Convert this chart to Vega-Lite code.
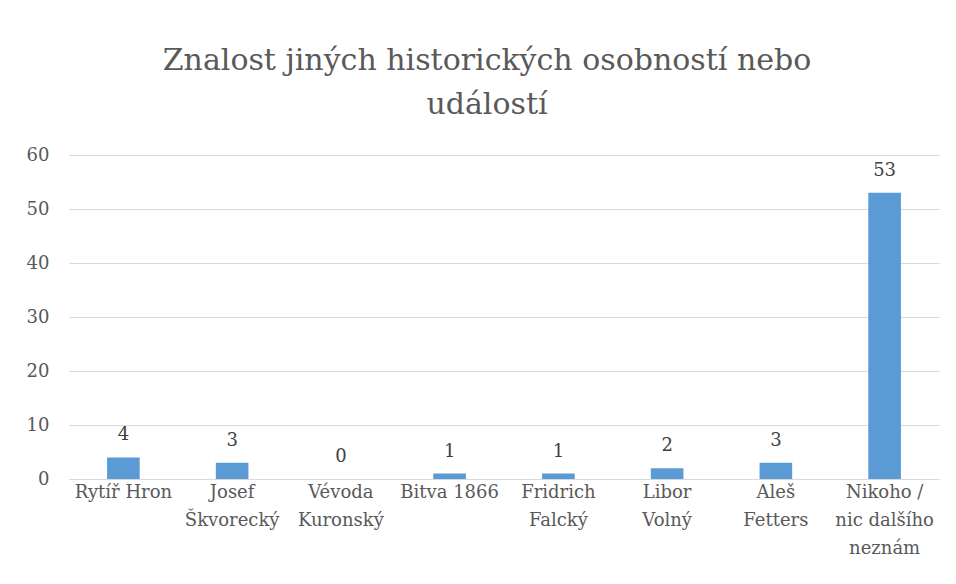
{
  "$schema": "https://vega.github.io/schema/vega-lite/v6.json",
  "width": 870,
  "height": 324,
  "autosize": "none",
  "padding": {"left": 69, "top": 155, "right": 17, "bottom": 105},
  "background": "white",
  "title": {
    "text": ["Znalost jiných historických osobností nebo", "událostí"],
    "font": "DejaVu Serif",
    "fontSize": 30,
    "fontWeight": "normal",
    "color": "#595959",
    "lineHeight": 44,
    "anchor": "middle",
    "dx": -17,
    "offset": 26
  },
  "data": {
    "values": [
      {"kategorie": "Rytíř Hron", "pocet": 4},
      {"kategorie": "Josef|Škvorecký", "pocet": 3},
      {"kategorie": "Vévoda|Kuronský", "pocet": 0},
      {"kategorie": "Bitva 1866", "pocet": 1},
      {"kategorie": "Fridrich|Falcký", "pocet": 1},
      {"kategorie": "Libor|Volný", "pocet": 2},
      {"kategorie": "Aleš|Fetters", "pocet": 3},
      {"kategorie": "Nikoho /|nic dalšího|neznám", "pocet": 53}
    ]
  },
  "encoding": {
    "x": {
      "field": "kategorie",
      "type": "nominal",
      "sort": null,
      "scale": {"paddingInner": 0.7, "paddingOuter": 0.35},
      "axis": {
        "title": null,
        "labelAngle": 0,
        "labelExpr": "split(datum.value, '|')",
        "labelFont": "DejaVu Serif",
        "labelFontSize": 18,
        "labelColor": "#595959",
        "labelLineHeight": 28,
        "labelPadding": 4,
        "labelBaseline": "top",
        "ticks": false,
        "domainColor": "#d9d9d9",
        "labelLimit": 0
      }
    },
    "y": {
      "field": "pocet",
      "type": "quantitative",
      "scale": {"domain": [0, 60]},
      "axis": {
        "title": null,
        "values": [0, 10, 20, 30, 40, 50, 60],
        "labelFont": "DejaVu Serif",
        "labelFontSize": 18,
        "labelColor": "#595959",
        "labelPadding": 20,
        "ticks": false,
        "domain": false,
        "gridColor": "#d9d9d9",
        "gridWidth": 1
      }
    }
  },
  "layer": [
    {"mark": {"type": "bar", "color": "#5B9BD5"}},
    {
      "mark": {
        "type": "text",
        "font": "DejaVu Serif",
        "fontSize": 18,
        "color": "#404040",
        "baseline": "alphabetic",
        "dy": -17
      },
      "encoding": {"text": {"field": "pocet", "type": "quantitative"}}
    }
  ],
  "config": {"view": {"stroke": null}}
}
